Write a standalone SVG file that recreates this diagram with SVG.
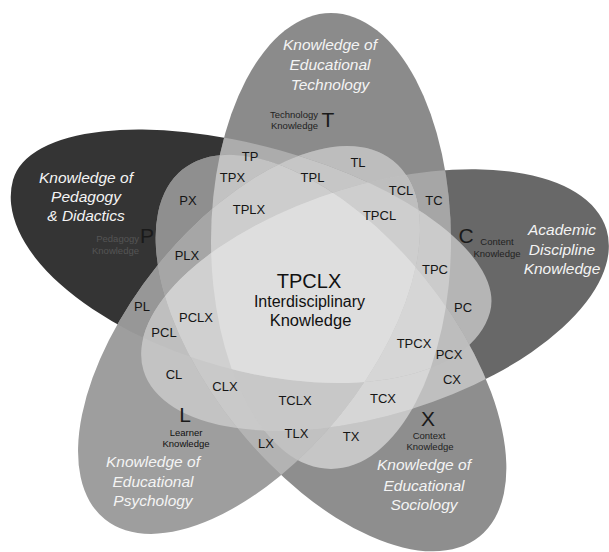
<svg xmlns="http://www.w3.org/2000/svg" width="609" height="552" viewBox="0 0 609 552">
<style>
text{font-family:"Liberation Sans",Arial,"DejaVu Sans",sans-serif}
.lbl{font-size:13px;fill:#151515;text-anchor:middle}
.ttl{font-size:15.5px;font-style:italic;fill:#f4f4f4;text-anchor:middle}
.sm{font-size:9.5px;fill:#222}
.let{font-size:21px;fill:#1a1a1a;text-anchor:middle}
.ctr{fill:#111;text-anchor:middle}
</style>
<defs>
<ellipse id="sT" cx="331" cy="241" rx="120" ry="228"/>
<path id="sP" transform="translate(253.9 246.8) rotate(15.5)" d="M245 0A245 124 0 0 1 0 124A250 124 0 0 1 -250 0A250 100 0 0 1 0 -100A245 100 0 0 1 245 0Z"/>
<ellipse id="sC" cx="375" cy="300" rx="242" ry="115" transform="rotate(-17 375 300)"/>
<ellipse id="sL" cx="249" cy="340" rx="230" ry="118" transform="rotate(-51.2 249 340)"/>
<ellipse id="sX" cx="331" cy="353" rx="236" ry="120" transform="rotate(51 331 353)"/>
<clipPath id="cT"><use href="#sT"/></clipPath>
<clipPath id="cP"><use href="#sP"/></clipPath>
<clipPath id="cC"><use href="#sC"/></clipPath>
<clipPath id="cL"><use href="#sL"/></clipPath>
<clipPath id="cX"><use href="#sX"/></clipPath>
</defs>
<g id="regions">
<use href="#sP" fill="#343434"/>
<use href="#sC" fill="#686868"/>
<use href="#sT" fill="#8b8b8b"/>
<use href="#sL" fill="#9e9e9e"/>
<use href="#sX" fill="#8e8e8e"/>
<g clip-path="url(#cT)"><use href="#sP" fill="#acacac"/></g>
<g clip-path="url(#cT)"><use href="#sC" fill="#a6a6a6"/></g>
<g clip-path="url(#cT)"><use href="#sL" fill="#bdbdbd"/></g>
<g clip-path="url(#cT)"><use href="#sX" fill="#c6c6c6"/></g>
<g clip-path="url(#cP)"><use href="#sC" fill="#b5b5b5"/></g>
<g clip-path="url(#cP)"><use href="#sL" fill="#979797"/></g>
<g clip-path="url(#cP)"><use href="#sX" fill="#8f8f8f"/></g>
<g clip-path="url(#cC)"><use href="#sL" fill="#c3c3c3"/></g>
<g clip-path="url(#cC)"><use href="#sX" fill="#bfbfbf"/></g>
<g clip-path="url(#cL)"><use href="#sX" fill="#b3b3b3"/></g>
<g clip-path="url(#cT)"><g clip-path="url(#cP)"><use href="#sC" fill="#cbcbcb"/></g></g>
<g clip-path="url(#cT)"><g clip-path="url(#cP)"><use href="#sL" fill="#c6c6c6"/></g></g>
<g clip-path="url(#cT)"><g clip-path="url(#cP)"><use href="#sX" fill="#c2c2c2"/></g></g>
<g clip-path="url(#cT)"><g clip-path="url(#cC)"><use href="#sL" fill="#bebebe"/></g></g>
<g clip-path="url(#cT)"><g clip-path="url(#cC)"><use href="#sX" fill="#d6d6d6"/></g></g>
<g clip-path="url(#cT)"><g clip-path="url(#cL)"><use href="#sX" fill="#c1c1c1"/></g></g>
<g clip-path="url(#cP)"><g clip-path="url(#cC)"><use href="#sL" fill="#bfbfbf"/></g></g>
<g clip-path="url(#cP)"><g clip-path="url(#cC)"><use href="#sX" fill="#bdbdbd"/></g></g>
<g clip-path="url(#cP)"><g clip-path="url(#cL)"><use href="#sX" fill="#a6a6a6"/></g></g>
<g clip-path="url(#cC)"><g clip-path="url(#cL)"><use href="#sX" fill="#c9c9c9"/></g></g>
<g clip-path="url(#cT)"><g clip-path="url(#cP)"><g clip-path="url(#cC)"><use href="#sL" fill="#cecece"/></g></g></g>
<g clip-path="url(#cT)"><g clip-path="url(#cP)"><g clip-path="url(#cC)"><use href="#sX" fill="#d6d6d6"/></g></g></g>
<g clip-path="url(#cT)"><g clip-path="url(#cP)"><g clip-path="url(#cL)"><use href="#sX" fill="#cdcdcd"/></g></g></g>
<g clip-path="url(#cT)"><g clip-path="url(#cC)"><g clip-path="url(#cL)"><use href="#sX" fill="#c8c8c8"/></g></g></g>
<g clip-path="url(#cP)"><g clip-path="url(#cC)"><g clip-path="url(#cL)"><use href="#sX" fill="#d0d0d0"/></g></g></g>
<g clip-path="url(#cT)"><g clip-path="url(#cP)"><g clip-path="url(#cC)"><g clip-path="url(#cL)"><use href="#sX" fill="#dedede"/></g></g></g></g>
</g>
<g id="set-T">
<text class="ttl" x="330" y="50">Knowledge of</text>
<text class="ttl" x="330" y="70">Educational</text>
<text class="ttl" x="330" y="90">Technology</text>
<text class="sm" x="318" y="118" text-anchor="end">Technology</text>
<text class="sm" x="318" y="129" text-anchor="end">Knowledge</text>
<text class="let" x="328" y="127">T</text>
</g>
<g id="set-P">
<text class="ttl" x="86" y="183">Knowledge of</text>
<text class="ttl" x="86" y="202">Pedagogy</text>
<text class="ttl" x="86" y="221">&amp; Didactics</text>
<text class="sm" x="139" y="242" text-anchor="end" style="fill:#555">Pedagogy</text>
<text class="sm" x="139" y="254" text-anchor="end" style="fill:#555">Knowledge</text>
<text class="let" x="147" y="243">P</text>
</g>
<g id="set-C">
<text class="ttl" x="562" y="235">Academic</text>
<text class="ttl" x="562" y="255">Discipline</text>
<text class="ttl" x="562" y="274">Knowledge</text>
<text class="sm" x="497" y="245" text-anchor="middle">Content</text>
<text class="sm" x="497" y="256.5" text-anchor="middle">Knowledge</text>
<text class="let" x="466" y="243">C</text>
</g>
<g id="set-L">
<text class="ttl" x="153" y="467">Knowledge of</text>
<text class="ttl" x="153" y="487">Educational</text>
<text class="ttl" x="153" y="506">Psychology</text>
<text class="sm" x="186" y="436" text-anchor="middle" style="fill:#111">Learner</text>
<text class="sm" x="186" y="447" text-anchor="middle" style="fill:#111">Knowledge</text>
<text class="let" x="185" y="422">L</text>
</g>
<g id="set-X">
<text class="ttl" x="424" y="470">Knowledge of</text>
<text class="ttl" x="424" y="491">Educational</text>
<text class="ttl" x="424" y="510">Sociology</text>
<text class="sm" x="429" y="439" text-anchor="middle">Context</text>
<text class="sm" x="430" y="450" text-anchor="middle">Knowledge</text>
<text class="let" x="428" y="426">X</text>
</g>
<g id="center">
<text class="ctr" x="309" y="288" font-size="20">TPCLX</text>
<text class="ctr" x="309.5" y="307" font-size="16">Interdisciplinary</text>
<text class="ctr" x="310.5" y="326" font-size="16.5">Knowledge</text>
</g>
<g id="region-labels">
<text class="lbl" x="250" y="161">TP</text>
<text class="lbl" x="232.5" y="182">TPX</text>
<text class="lbl" x="312.5" y="182">TPL</text>
<text class="lbl" x="188" y="205">PX</text>
<text class="lbl" x="249" y="214">TPLX</text>
<text class="lbl" x="187" y="260">PLX</text>
<text class="lbl" x="358" y="167">TL</text>
<text class="lbl" x="401" y="195">TCL</text>
<text class="lbl" x="434" y="205">TC</text>
<text class="lbl" x="379.5" y="220">TPCL</text>
<text class="lbl" x="435" y="274">TPC</text>
<text class="lbl" x="463" y="312">PC</text>
<text class="lbl" x="414" y="348">TPCX</text>
<text class="lbl" x="449" y="359">PCX</text>
<text class="lbl" x="452" y="384">CX</text>
<text class="lbl" x="383" y="403">TCX</text>
<text class="lbl" x="351" y="441">TX</text>
<text class="lbl" x="142" y="311">PL</text>
<text class="lbl" x="196" y="322">PCLX</text>
<text class="lbl" x="164" y="337">PCL</text>
<text class="lbl" x="174" y="379">CL</text>
<text class="lbl" x="225" y="391">CLX</text>
<text class="lbl" x="266" y="448">LX</text>
<text class="lbl" x="296.5" y="438">TLX</text>
<text class="lbl" x="295" y="405">TCLX</text>
</g>
</svg>
